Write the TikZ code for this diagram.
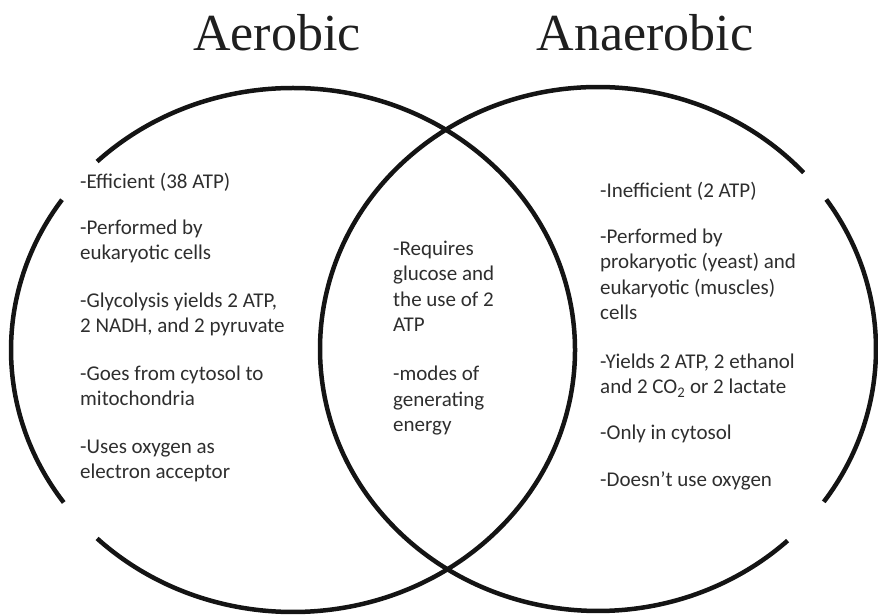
\documentclass[tikz,border=0pt]{standalone}
\usepackage{fontspec}
\setmainfont{Carlito}
\newfontfamily\headfont{Liberation Serif}

\begin{document}
\begin{tikzpicture}[x=1pt,y=1pt,
	head/.style={anchor=base, inner sep=0pt, text=black!88, font=\headfont\fontsize{52}{60}\selectfont},
	entry/.style={anchor=base west, align=left, inner sep=0pt, text=black!82, font=\fontsize{21}{25.5}\selectfont},
	ring/.style={line width=4.5pt, black!92}]
	\useasboundingbox (0,0) rectangle (878,615);

	\coordinate (aero) at (293,265);
	\coordinate (anaero) at (598,266);

	\node[head] (Ta) at (277,564) {Aerobic};
	\node[head] (Tn) at (645,564) {Anaerobic};

	\draw[ring] (aero) ++(145:282 and 262) arc[start angle=145, end angle=215.6, x radius=282, y radius=262];
	\draw[ring] (aero) ++(226:282 and 262) arc[start angle=226, end angle=494, x radius=282, y radius=262];
	\draw[ring] (anaero) ++(-35.7:278 and 262) arc[start angle=-35.7, end angle=34.8, x radius=278, y radius=262];
	\draw[ring] (anaero) ++(42.3:278 and 262) arc[start angle=42.3, end angle=313, x radius=278, y radius=262];

	\node[entry] (a1) at (80,426) {-Efficient (38 ATP)};
	\node[entry] (a2) at (80,355) {-Performed by\\eukaryotic cells};
	\node[entry] (a3) at (80,282) {-Glycolysis yields 2 ATP,\\2 NADH, and 2 pyruvate};
	\node[entry] (a4) at (80,209) {-Goes from cytosol to\\mitochondria};
	\node[entry] (a5) at (80,136) {-Uses oxygen as\\electron acceptor};

	\node[entry] (b1) at (393,283) {-Requires\\glucose and\\the use of 2\\ATP};
	\node[entry] (b2) at (393,183) {-modes of\\generating\\energy};

	\node[entry] (n1) at (600,417) {-Inefficient (2 ATP)};
	\node[entry] (n2) at (600,295) {-Performed by\\prokaryotic (yeast) and\\eukaryotic (muscles)\\cells};
	\node[entry] (n3) at (600,221) {-Yields 2 ATP, 2 ethanol\\and 2 CO\textsubscript{2} or 2 lactate};
	\node[entry] (n4) at (600,175) {-Only in cytosol};
	\node[entry] (n5) at (600,128) {-Doesn't use oxygen};
\end{tikzpicture}
\end{document}
